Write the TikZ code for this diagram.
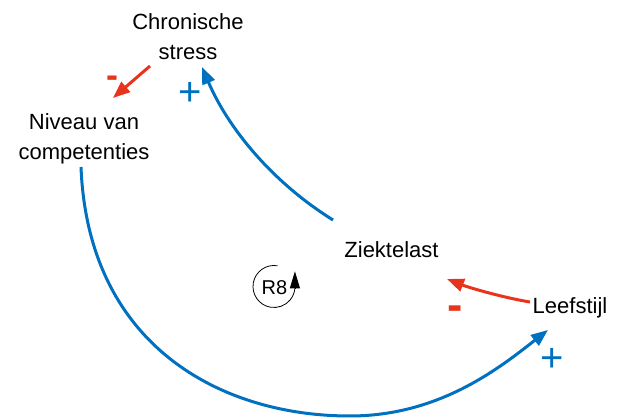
\documentclass[tikz,border=0pt]{standalone}
\usepackage{fontspec}
\setmainfont{Liberation Sans}
\usetikzlibrary{arrows.meta}
\definecolor{linkblue}{RGB}{0,112,192}
\definecolor{linkred}{RGB}{233,52,28}
\begin{document}
\begin{tikzpicture}[x=1pt,y=1pt,
  var/.style={inner sep=0pt, anchor=base, font=\fontsize{22}{30}\selectfont},
  link/.style={-{Triangle[length=17pt,width=13pt]}, line width=3pt},
  poslink/.style={link, draw=linkblue},
  neglink/.style={link, draw=linkred},
  plussign/.style={text=linkblue, inner sep=0pt, anchor=base, font=\fontsize{40}{40}\selectfont},
  minussign/.style={text=linkred, inner sep=0pt, anchor=base},
  loopline/.style={line width=0.8pt, draw=black}
]
\useasboundingbox (0,0) rectangle (622,419);

% variables
\node[var] (stress) at (188,389) {\begin{tabular}[t]{@{}c@{}}Chronische\\stress\end{tabular}};
\node[var] (niveau) at (84,289) {\begin{tabular}[t]{@{}c@{}}Niveau van\\competenties\end{tabular}};
\node[var] (ziekte) at (391.5,161) {Ziektelast};
\node[var] (leef) at (570,105) {Leefstijl};

% connector end points
\coordinate (stressOut) at (150,353);
\coordinate (niveauIn) at (113,321);
\coordinate (ziekteOut) at (333,199);
\coordinate (stressIn) at (202,352);
\coordinate (niveauOut) at (81,252);
\coordinate (bottom) at (350,3);
\coordinate (leefIn) at (548,89);
\coordinate (leefOut) at (530,117);
\coordinate (ziekteIn) at (447,140);

% links
\draw[neglink] (stressOut) -- (niveauIn);
\draw[poslink] (ziekteOut) .. controls (272,237) and (228,291) .. (stressIn);
\draw[poslink] (niveauOut) .. controls (88,74) and (220,3) .. (bottom)
  .. controls (440,3) and (500.6,52) .. (leefIn);
\draw[neglink] (leefOut) .. controls (505,121) and (470,131) .. (ziekteIn);

% polarity signs
\node[minussign, font=\bfseries\fontsize{36}{36}\selectfont] (m1) at (112,331) {-};
\node[plussign] (p1) at (190,313.8) {+};
\node[minussign, font=\bfseries\fontsize{46}{46}\selectfont] (m2) at (455,98) {-};
\node[plussign] (p2) at (552,47.8) {+};

% loop marker
\coordinate (loopc) at (274,132.5);
\draw[loopline] ([shift={(80:21)}]loopc) arc[start angle=80, end angle=355, radius=21] coordinate (loopend);
\draw[loopline, -{Triangle[length=17pt,width=10pt]}] (loopend) -- ++(0,17);
\node[inner sep=0pt, font=\fontsize{20}{20}\selectfont] (r8) at (274.5,131.5) {R8};
\end{tikzpicture}
\end{document}
